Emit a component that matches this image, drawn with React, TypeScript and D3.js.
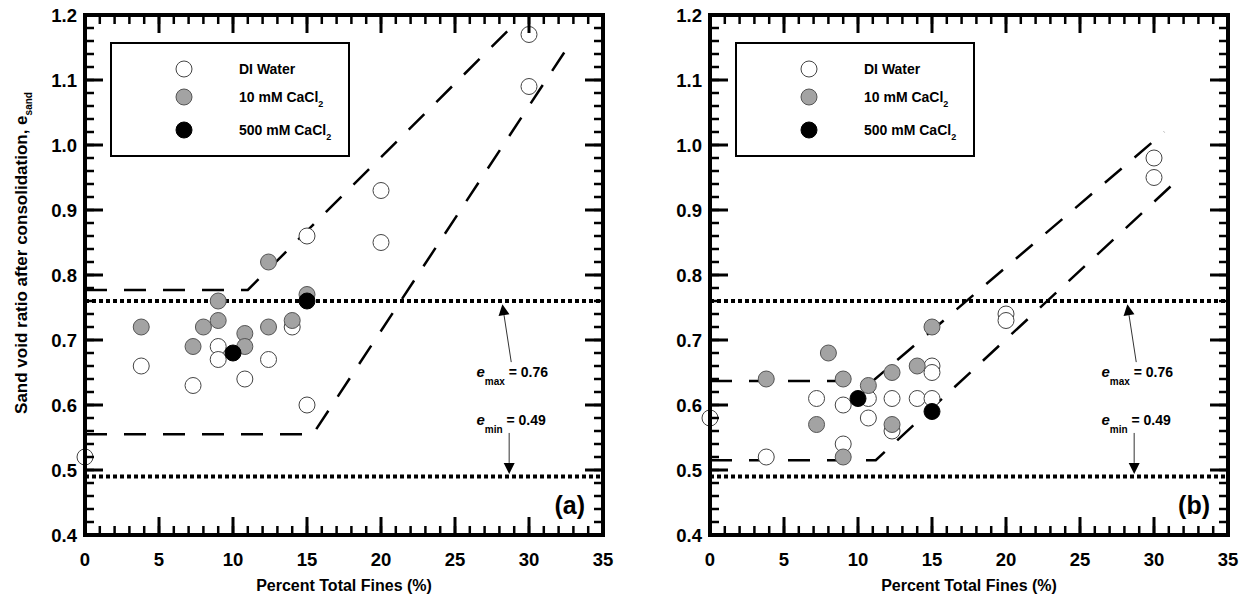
import React from "react";
import * as d3 from "d3";

type Pt = [number, number];

// Axis ranges and tick values
const X_DOMAIN: [number, number] = [0, 35];
const Y_DOMAIN: [number, number] = [0.4, 1.2];
const X_MAJOR = [0, 5, 10, 15, 20, 25, 30, 35];
const Y_MAJOR = [0.4, 0.5, 0.6, 0.7, 0.8, 0.9, 1.0, 1.1, 1.2];
const X_MINOR = d3.range(0, 35.001, 1);
const Y_MINOR = d3.range(0.4, 1.2001, 0.02);

const E_MAX = 0.76;
const E_MIN = 0.49;

// Panel (a)
const aDI: Pt[] = [
  [0, 0.52], [3.8, 0.66], [7.3, 0.63], [9, 0.69], [9, 0.67], [10.8, 0.64],
  [12.4, 0.67], [14, 0.72], [15, 0.6], [15, 0.86], [20, 0.93], [20, 0.85],
  [30, 1.17], [30, 1.09],
];
const aCa10: Pt[] = [
  [3.8, 0.72], [7.3, 0.69], [8, 0.72], [9, 0.76], [9, 0.73], [10.8, 0.71],
  [10.8, 0.69], [12.4, 0.82], [12.4, 0.72], [14, 0.73], [15, 0.77],
];
const aCa500: Pt[] = [[10, 0.68], [15, 0.76]];
const aUpper: Pt[] = [[0, 0.777], [11, 0.777], [29.2, 1.19]];
const aLower: Pt[] = [[0, 0.555], [15.4, 0.555], [32.6, 1.15]];

// Panel (b)
const bDI: Pt[] = [
  [0, 0.58], [3.8, 0.52], [7.2, 0.61], [9, 0.6], [9, 0.54], [10.7, 0.61],
  [10.7, 0.58], [12.3, 0.61], [12.3, 0.56], [14, 0.61], [15, 0.66],
  [15, 0.65], [15, 0.61], [20, 0.74], [20, 0.73], [30, 0.98], [30, 0.95],
];
const bCa10: Pt[] = [
  [3.8, 0.64], [7.2, 0.57], [8, 0.68], [9, 0.64], [9, 0.52], [10.7, 0.63],
  [12.3, 0.65], [12.3, 0.57], [14, 0.66], [15, 0.72],
];
const bCa500: Pt[] = [[10, 0.61], [15, 0.59]];
const bUpper: Pt[] = [[0, 0.637], [11, 0.637], [30.7, 1.02]];
const bLower: Pt[] = [[0, 0.515], [11.2, 0.515], [31.3, 0.94]];

const FONT = "Arial, 'Liberation Sans', Helvetica, sans-serif";
const TOP = 15;
const BOTTOM = 535;
const R = 8;

const SERIES_STYLE = {
  di: { fill: "#ffffff", stroke: "#444" },
  ca10: { fill: "#a3a3a3", stroke: "#555" },
  ca500: { fill: "#000000", stroke: "#000" },
};

interface PanelProps {
  left: number;
  right: number;
  tag: string;
  di: Pt[];
  ca10: Pt[];
  ca500: Pt[];
  upper: Pt[];
  lower: Pt[];
  showYTitle: boolean;
}

function Arrow({ x1, y1, x2, y2 }: { x1: number; y1: number; x2: number; y2: number }) {
  const ang = Math.atan2(y2 - y1, x2 - x1);
  const L = 11;
  const W = 5.5;
  const bx = x2 - L * Math.cos(ang);
  const by = y2 - L * Math.sin(ang);
  const px = -Math.sin(ang) * W;
  const py = Math.cos(ang) * W;
  return (
    <g>
      <line x1={x1} y1={y1} x2={bx} y2={by} stroke="#333" strokeWidth={1} />
      <path d={`M${x2},${y2}L${bx + px},${by + py}L${bx - px},${by - py}Z`} fill="#000" />
    </g>
  );
}

function Panel(p: PanelProps) {
  const x = d3.scaleLinear().domain(X_DOMAIN).range([p.left, p.right]);
  const y = d3.scaleLinear().domain(Y_DOMAIN).range([BOTTOM, TOP]);
  const line = d3.line<Pt>().x((d) => x(d[0])).y((d) => y(d[1]));
  const cx = (p.left + p.right) / 2;
  const legX = p.left + 26;
  const legY = 43;

  const dots = (pts: Pt[], s: { fill: string; stroke: string }) =>
    pts.map((d, i) => (
      <circle key={i} cx={x(d[0])} cy={y(d[1])} r={R} fill={s.fill} stroke={s.stroke} strokeWidth={1} />
    ));

  return (
    <g>
      {/* reference void ratio lines */}
      {[E_MAX, E_MIN].map((v) => (
        <line key={v} x1={x(0)} x2={x(35)} y1={y(v)} y2={y(v)} stroke="#000" strokeWidth={4} strokeDasharray="4 3" />
      ))}
      {/* envelopes */}
      {[p.upper, p.lower].map((l, i) => (
        <path key={i} d={line(l) || ""} fill="none" stroke="#000" strokeWidth={2.5} strokeDasharray="22 17" />
      ))}

      {dots(p.di, SERIES_STYLE.di)}
      {dots(p.ca10, SERIES_STYLE.ca10)}
      {dots(p.ca500, SERIES_STYLE.ca500)}

      {/* minor and major ticks on all four sides, pointing inward */}
      <g stroke="#000" strokeWidth={2.5}>
        {Y_MINOR.map((v, i) => (
          <g key={"ym" + i}>
            <line x1={p.left} x2={p.left + 9} y1={y(v)} y2={y(v)} />
            <line x1={p.right} x2={p.right - 9} y1={y(v)} y2={y(v)} />
          </g>
        ))}
        {Y_MAJOR.map((v) => (
          <g key={"yM" + v}>
            <line x1={p.left} x2={p.left + 18} y1={y(v)} y2={y(v)} strokeWidth={3} />
            <line x1={p.right} x2={p.right - 18} y1={y(v)} y2={y(v)} strokeWidth={3} />
          </g>
        ))}
        {X_MINOR.map((v) => (
          <g key={"xm" + v}>
            <line y1={BOTTOM} y2={BOTTOM - 9} x1={x(v)} x2={x(v)} />
            <line y1={TOP} y2={TOP + 9} x1={x(v)} x2={x(v)} />
          </g>
        ))}
        {X_MAJOR.map((v) => (
          <g key={"xM" + v}>
            <line y1={BOTTOM} y2={BOTTOM - 18} x1={x(v)} x2={x(v)} strokeWidth={3} />
            <line y1={TOP} y2={TOP + 18} x1={x(v)} x2={x(v)} strokeWidth={3} />
          </g>
        ))}
      </g>
      <rect x={p.left} y={TOP} width={p.right - p.left} height={BOTTOM - TOP} fill="none" stroke="#000" strokeWidth={4} />

      {/* tick labels */}
      <g fontFamily={FONT} fontWeight="bold" fontSize={18.5} fill="#000">
        {Y_MAJOR.map((v) => (
          <text key={"yl" + v} x={p.left - 8} y={y(v)} dy="0.36em" textAnchor="end">
            {v.toFixed(1)}
          </text>
        ))}
        {X_MAJOR.map((v) => (
          <text key={"xl" + v} x={x(v)} y={BOTTOM + 31} textAnchor="middle">
            {v}
          </text>
        ))}
      </g>
      <text x={cx} y={BOTTOM + 56} textAnchor="middle" fontFamily={FONT} fontWeight="bold" fontSize={16}>
        Percent Total Fines (%)
      </text>
      {p.showYTitle && (
        <text transform={`translate(27,${(TOP + BOTTOM) / 2 - 22}) rotate(-90)`} textAnchor="middle" fontFamily={FONT} fontWeight="bold" fontSize={17}>
          Sand void ratio after consolidation, e
          <tspan fontSize={10} dy={5}>sand</tspan>
        </text>
      )}

      {/* legend */}
      <rect x={legX} y={legY} width={238} height={113} fill="#fff" stroke="#000" strokeWidth={2} />
      {[
        { s: SERIES_STYLE.di, label: "DI Water", sub: "", dy: 26 },
        { s: SERIES_STYLE.ca10, label: "10 mM CaCl", sub: "2", dy: 54 },
        { s: SERIES_STYLE.ca500, label: "500 mM CaCl", sub: "2", dy: 87 },
      ].map((e, i) => (
        <g key={i}>
          <circle cx={legX + 73} cy={legY + e.dy} r={R} fill={e.s.fill} stroke={e.s.stroke} strokeWidth={1} />
          <text x={legX + 128} y={legY + e.dy + 5} fontFamily={FONT} fontWeight="bold" fontSize={14}>
            {e.label}
            {e.sub && <tspan fontSize={9} dy={5}>{e.sub}</tspan>}
          </text>
        </g>
      ))}

      {/* e_max / e_min annotations */}
      <g fontFamily={FONT} fontWeight="bold" fill="#000">
        <text x={x(26.45)} y={y(0.643)} fontSize={15}>
          <tspan fontStyle="italic">e</tspan>
          <tspan fontSize={10} dy={8}>max</tspan>
          <tspan fontSize={14} dy={-8}>{` = ${E_MAX.toFixed(2)}`}</tspan>
        </text>
        <text x={x(26.45)} y={y(0.569)} fontSize={15}>
          <tspan fontStyle="italic">e</tspan>
          <tspan fontSize={10} dy={8}>min</tspan>
          <tspan fontSize={14} dy={-8}>{` = ${E_MIN.toFixed(2)}`}</tspan>
        </text>
      </g>
      <Arrow x1={x(28.8)} y1={y(0.666)} x2={x(28.2)} y2={y(0.755)} />
      <Arrow x1={x(28.66)} y1={y(0.557)} x2={x(28.66)} y2={y(0.494)} />

      <text x={p.right - 18} y={BOTTOM - 21} textAnchor="end" fontFamily={FONT} fontWeight="bold" fontSize={25}>
        {p.tag}
      </text>
    </g>
  );
}

export default function App() {
  return (
    <svg width={1250} height={601} style={{ position: "absolute", left: 0, top: 0, background: "#fff" }}>
      <rect width={1250} height={601} fill="#fff" />
      <Panel left={85} right={603} tag="(a)" di={aDI} ca10={aCa10} ca500={aCa500} upper={aUpper} lower={aLower} showYTitle />
      <Panel left={710} right={1228} tag="(b)" di={bDI} ca10={bCa10} ca500={bCa500} upper={bUpper} lower={bLower} showYTitle={false} />
    </svg>
  );
}
